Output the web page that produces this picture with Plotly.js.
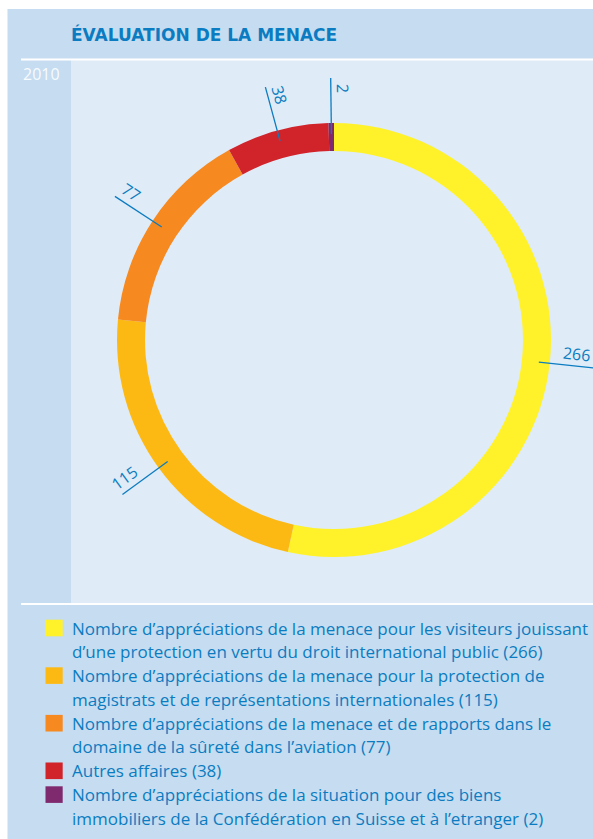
<!DOCTYPE html>
<html>
<head>
<meta charset="utf-8">
<script src="https://cdn.plot.ly/plotly-3.0.1.min.js"></script>
<style>
html,body{margin:0;padding:0;background:#fff;}
#chart{width:593px;height:839px;}
</style>
</head>
<body>
<div id="chart"></div>
<script>
// ---- data ----
const values = [266, 115, 77, 38, 2];
const sliceColors = ['#fff22b', '#fdb913', '#f6891f', '#d1232a', '#7f2a6e'];
const legendLines = [
  ['Nombre d’appréciations de la menace pour les visiteurs jouissant', 'd’une protection en vertu du droit international public'],
  ['Nombre d’appréciations de la menace pour la protection de', 'magistrats et de représentations internationales'],
  ['Nombre d’appréciations de la menace et de rapports dans le', 'domaine de la sûreté dans l’aviation'],
  ['Autres affaires'],
  ['Nombre d’appréciations de la situation pour des biens', 'immobiliers de la Confédération en Suisse et à l’etranger']
];
const titleText = 'ÉVALUATION DE LA MENACE';
const yearText = '2010';

// ---- layout helpers ----
const W = 593, H = 839;
const BLUE = '#0b7cc1';
const HEAD = '#c6dcf0';
const AREA = '#dfebf7';
const px = x => x / W;
const py = y => 1 - y / H;
const cx = 334, cy = 340, R = 217;
const LABEL_SIZE = 16;

const shapes = [];
const annotations = [];

// panel backgrounds
shapes.push({type:'rect', xref:'paper', yref:'paper', layer:'below', x0:px(7.5), x1:px(W+5), y0:py(839+5), y1:py(9), fillcolor:HEAD, line:{width:0}});
shapes.push({type:'rect', xref:'paper', yref:'paper', layer:'below', x0:px(71), x1:px(W+5), y0:py(603), y1:py(60), fillcolor:AREA, line:{width:0}});
shapes.push({type:'line', xref:'paper', yref:'paper', layer:'below', x0:px(21), x1:px(W+5), y0:py(59.5), y1:py(59.5), line:{color:'#ffffff', width:2}});
shapes.push({type:'line', xref:'paper', yref:'paper', layer:'below', x0:px(21), x1:px(W+5), y0:py(604), y1:py(604), line:{color:'#ffffff', width:2}});

// year label
annotations.push({text:yearText, xref:'paper', yref:'paper', x:px(21), y:py(74.5), xanchor:'left', yanchor:'middle', showarrow:false, font:{family:'Open Sans, sans-serif', size:16, color:'#f7fbfe'}});

// value labels with radial leader lines
const total = values.reduce((a,b)=>a+b,0);
let cum = 0;
values.forEach((v,i)=>{
  const mid = (cum + v/2) / total * 2 * Math.PI;
  cum += v;
  const ux = Math.sin(mid), uy = -Math.cos(mid);
  shapes.push({type:'line', xref:'paper', yref:'paper', x0:px(cx+206*ux), y0:py(cy+206*uy), x1:px(cx+262*ux), y1:py(cy+262*uy), line:{color:BLUE, width:1.3}});
  const left = mid > Math.PI;
  const dx = left ? -ux : ux, dy = left ? -uy : uy;
  const nx = dy, ny = -dx;
  let rt = 251;
  const half = String(v).length * LABEL_SIZE * 0.29;
  // keep the label inside the page on the right edge
  while (cx + rt*ux + 12*nx + half*Math.abs(dx) > W - 2 && rt > 230) rt -= 1;
  const tx = cx + rt*ux + 12*nx, ty = cy + rt*uy + 12*ny;
  annotations.push({text:String(v), xref:'paper', yref:'paper', x:px(tx), y:py(ty), xanchor:'center', yanchor:'middle', showarrow:false, textangle: Math.atan2(dy,dx)*180/Math.PI, font:{family:'Open Sans, sans-serif', size:LABEL_SIZE, color:BLUE}});
});

// legend (manual)
let ly = 628;
legendLines.forEach((lines,i)=>{
  shapes.push({type:'rect', xref:'paper', yref:'paper', x0:px(45.5), x1:px(62.7), y0:py(ly+8.3), y1:py(ly-8.3), fillcolor:sliceColors[i], line:{width:0}});
  lines.forEach((t,j)=>{
    const txt = j === lines.length-1 ? t + ' (' + values[i] + ')' : t;
    annotations.push({text:txt, xref:'paper', yref:'paper', x:px(70), y:py(ly), xanchor:'left', yanchor:'middle', showarrow:false, font:{family:'Open Sans, sans-serif', size:17, color:BLUE}});
    ly += 23.8;
  });
});

const trace = {
  type:'pie',
  values: values,
  marker:{colors:sliceColors, line:{width:0}},
  hole: 0.871,
  sort:false,
  direction:'clockwise',
  rotation:0,
  textinfo:'none',
  hoverinfo:'none',
  showlegend:false,
  domain:{x:[(cx-R)/W,(cx+R)/W], y:[(H-cy-R)/H,(H-cy+R)/H]}
};

const layout = {
  width:W, height:H,
  margin:{l:0,r:0,t:0,b:0},
  paper_bgcolor:'#ffffff',
  showlegend:false,
  title:{text:'<b>'+titleText+'</b>', x:px(71), xref:'paper', xanchor:'left', y:1-35.5/H, yref:'container', yanchor:'middle', font:{family:'DejaVu Sans, sans-serif', size:17, color:BLUE}},
  shapes:shapes,
  annotations:annotations
};

Plotly.newPlot('chart', [trace], layout, {displayModeBar:false, staticPlot:true});
</script>
</body>
</html>
